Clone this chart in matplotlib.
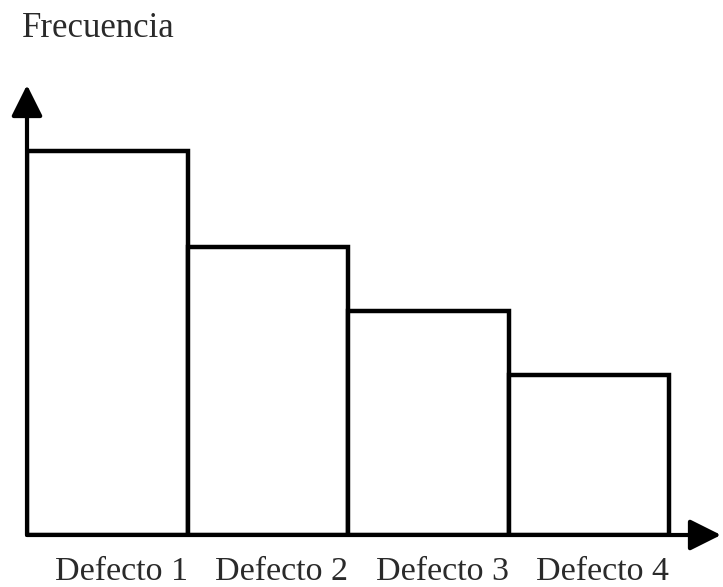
"""
Pareto-style bar chart of defect frequencies with arrow axes
"""

import matplotlib
matplotlib.use("Agg")
import matplotlib.pyplot as plt

categorias = ["Defecto 1", "Defecto 2", "Defecto 3", "Defecto 4"]
frecuencias = [12, 9, 7, 5]
titulo_y = "Frecuencia"


def main():
    plt.rcParams["font.family"] = ["Liberation Serif", "DejaVu Serif"]

    fig = plt.figure(figsize=(7.23, 5.87), dpi=100)
    ax = fig.add_axes([27 / 723, 52 / 587, 694 / 723, 450 / 587])
    ax.set_xlim(0, 694 / 160.5)
    ax.set_ylim(0, 450 / 32)
    ax.axis("off")

    xs = list(range(len(frecuencias)))
    ax.bar(xs, frecuencias, width=1.0, align="edge", color="white",
           edgecolor="black", linewidth=3.2, zorder=2)

    # axes with arrow heads
    style = "-|>,head_length=1.9,head_width=0.95"
    ax.annotate("", xy=(0, 1), xytext=(0, 0), xycoords="axes fraction",
                arrowprops=dict(arrowstyle=style, mutation_scale=10, lw=3.0,
                                color="black", shrinkA=0, shrinkB=0),
                zorder=3, annotation_clip=False)
    ax.annotate("", xy=(1, 0), xytext=(0, 0), xycoords="axes fraction",
                arrowprops=dict(arrowstyle=style, mutation_scale=10, lw=3.0,
                                color="black", shrinkA=0, shrinkB=0),
                zorder=3, annotation_clip=False)

    for x, nombre in zip(xs, categorias):
        ax.annotate(nombre, xy=(x + 0.5, 0), xytext=(14, -45),
                    textcoords="offset pixels", ha="center", va="baseline",
                    fontsize=24.5, color="#2a2a2a", annotation_clip=False)

    fig.text(22 / 723, 550 / 587, titulo_y, ha="left", va="baseline",
             fontsize=25, color="#2a2a2a")

    fig.savefig("out.png", dpi=100)


if __name__ == "__main__":
    main()
